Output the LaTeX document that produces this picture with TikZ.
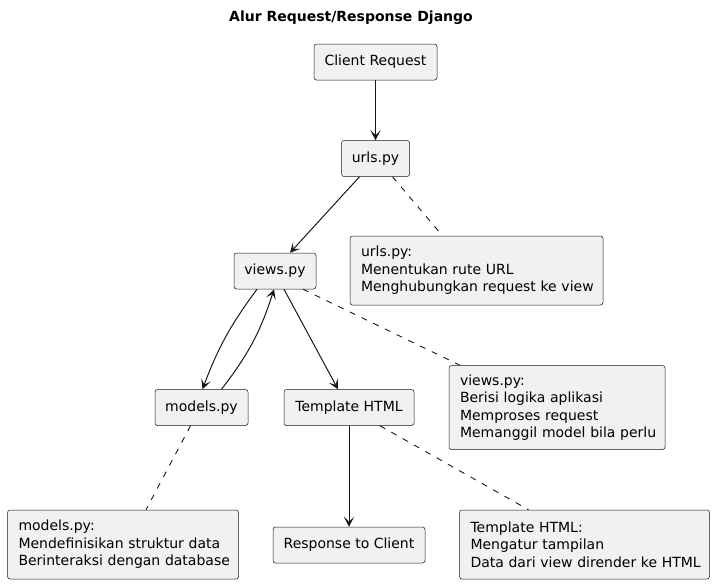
\documentclass[tikz,border=0pt]{standalone}
\usepackage{fontspec}
\setmainfont{DejaVu Sans}
\usetikzlibrary{arrows.meta}
\definecolor{boxfill}{HTML}{F1F1F1}
\definecolor{edge}{HTML}{181818}
\hfuzz=20pt
\begin{document}
\begin{tikzpicture}[x=1pt,y=-1pt,
  font=\fontsize{14}{17.5}\selectfont,
  box/.style={draw=edge,fill=boxfill,line width=0.5pt,rounded corners=2.5pt,inner sep=0pt,minimum height=36pt,text=black},
  notebox/.style={box,align=left,inner xsep=11pt},
  arr/.style={draw=edge,line width=1pt,-{Stealth[length=10pt,width=10pt,inset=5pt]}},
  dsh/.style={draw=edge,line width=0.9pt,dash pattern=on 6pt off 7pt}]
\useasboundingbox (0,0) rectangle (714,584);
\node[font=\fontsize{14}{17}\selectfont\bfseries] (title) at (351,18) {Alur Request/Response Django};
\node[box,minimum width=123pt] (client) at (375.5,62) {Client Request};
\node[box,minimum width=68pt] (urls) at (375.5,158.5) {urls.py};
\node[box,minimum width=82pt] (views) at (275,271) {views.py};
\node[box,minimum width=93pt] (models) at (201.5,407.5) {models.py};
\node[box,minimum width=130pt] (tmpl) at (349,407.5) {Template HTML};
\node[box,minimum width=152pt] (resp) at (349,545) {Response to Client};
\node[notebox,minimum width=253pt,minimum height=69pt,text width=231pt] (unote) at (476.5,270.5) {urls.py:\\\mbox{Menentukan rute URL}\\\mbox{Menghubungkan request ke view}};
\node[notebox,minimum width=216pt,minimum height=84pt,text width=194pt] (vnote) at (557,407.5) {views.py:\\\mbox{Berisi logika aplikasi}\\\mbox{Memproses request}\\\mbox{Memanggil model bila perlu}};
\node[notebox,minimum width=231pt,minimum height=69pt,text width=209pt] (mnote) at (123,544.5) {models.py:\\\mbox{Mendefinisikan struktur data}\\\mbox{Berinteraksi dengan database}};
\node[notebox,minimum width=250pt,minimum height=69pt,text width=228pt] (tnote) at (584.5,544.5) {Template HTML:\\\mbox{Mengatur tampilan}\\\mbox{Data dari view dirender ke HTML}};
\draw[arr] (client) -- (urls);
\draw[arr] ([xshift=-16pt]urls.south) -- ([xshift=15pt]views.north);
\draw[arr] ([xshift=-18pt]views.south) to[bend right=8] ([xshift=1pt]models.north);
\draw[arr] ([xshift=20pt]models.north) to[bend right=10] ([xshift=-1pt]views.south);
\draw[arr] ([xshift=9pt]views.south) -- ([xshift=-11pt]tmpl.north);
\draw[arr] (tmpl) -- (resp);
\draw[dsh] ([xshift=17pt]urls.south) -- ([xshift=-34pt]unote.north);
\draw[dsh] ([xshift=28pt]views.south) -- ([xshift=-97pt]vnote.north);
\draw[dsh] ([xshift=-11pt]models.south) -- ([xshift=23pt]mnote.north);
\draw[dsh] ([xshift=31pt]tmpl.south) -- ([xshift=-56pt]tnote.north);
\end{tikzpicture}
\end{document}
